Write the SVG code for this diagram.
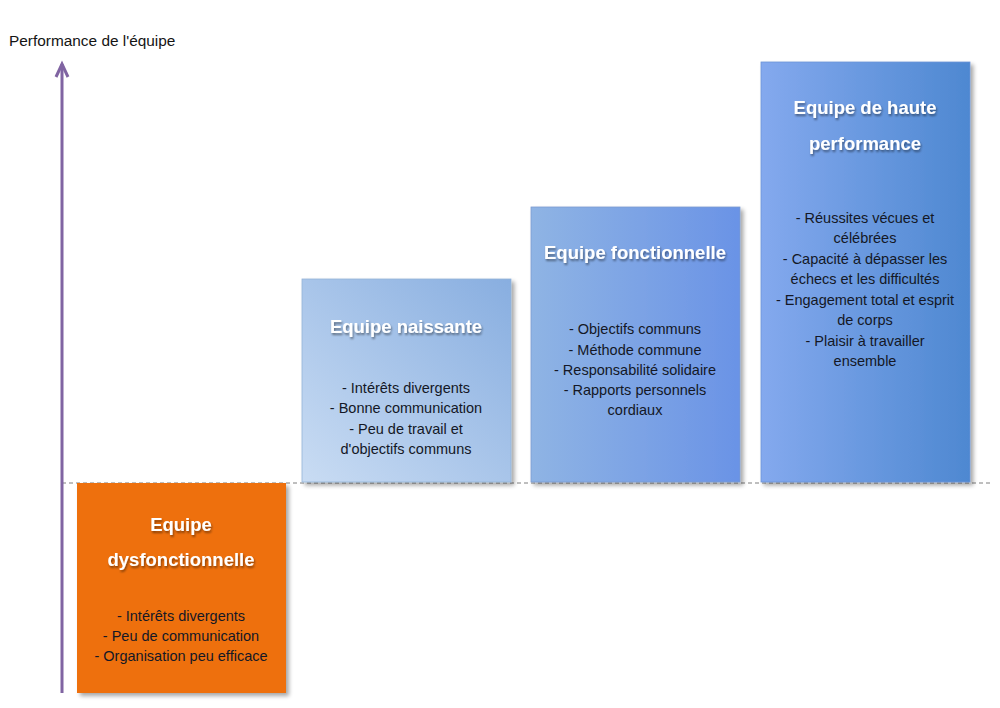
<svg xmlns="http://www.w3.org/2000/svg" width="1000" height="708" viewBox="0 0 1000 708">
<style>
.title{font-family:"Liberation Sans",Arial,sans-serif;font-size:18.5px;font-weight:bold;fill:#ffffff;text-anchor:middle}
.body{font-family:"Liberation Sans",Arial,sans-serif;font-size:14.5px;fill:#141826;text-anchor:middle}
.axislabel{font-family:"Liberation Sans",Arial,sans-serif;font-size:15.4px;fill:#141414}
</style>
<defs>
<filter id="sh" x="-10%" y="-10%" width="130%" height="130%">
<feGaussianBlur in="SourceAlpha" stdDeviation="2"/>
<feOffset dx="3" dy="3" result="b"/>
<feComponentTransfer><feFuncA type="linear" slope="0.35"/></feComponentTransfer>
<feMerge><feMergeNode/><feMergeNode in="SourceGraphic"/></feMerge>
</filter>
<filter id="ts" x="-10%" y="-30%" width="120%" height="160%">
<feGaussianBlur in="SourceAlpha" stdDeviation="1"/>
<feOffset dx="1" dy="1.5" result="b"/>
<feComponentTransfer><feFuncA type="linear" slope="0.45"/></feComponentTransfer>
<feMerge><feMergeNode/><feMergeNode in="SourceGraphic"/></feMerge>
</filter>
<linearGradient id="g2" x1="0" y1="1" x2="1" y2="0">
<stop offset="0" stop-color="#C9DCF3"/>
<stop offset="1" stop-color="#88AEE0"/>
</linearGradient>
<linearGradient id="g3" x1="0" y1="0" x2="1" y2="0">
<stop offset="0" stop-color="#8FB4E4"/>
<stop offset="1" stop-color="#6A93E6"/>
</linearGradient>
<linearGradient id="g4" x1="0" y1="0" x2="1" y2="0">
<stop offset="0" stop-color="#84A9EE"/>
<stop offset="1" stop-color="#4E88D1"/>
</linearGradient>
</defs>
<rect width="1000" height="708" fill="#ffffff"/>

<g id="connectors">
<line x1="62" y1="483" x2="992" y2="483" stroke="#7f7f7f" stroke-width="1" stroke-dasharray="4,3"/>
<line id="axis" x1="62" y1="64" x2="62" y2="693" stroke="#8064A2" stroke-width="3"/>
<polyline points="56,77 62,64 68,77" fill="none" stroke="#8064A2" stroke-width="3" stroke-linejoin="miter"/>
</g>

<text id="axis-label" class="axislabel" x="9" y="46">Performance de l'équipe</text>

<g id="dysfonctionnelle">
<rect x="77" y="483" width="209" height="210" fill="#EE700F" filter="url(#sh)"/>
<g filter="url(#ts)">
<text class="title" x="181" y="531">Equipe</text>
<text class="title" x="181" y="566">dysfonctionnelle</text>
</g>
<text class="body" x="181" y="621">- Intérêts divergents</text>
<text class="body" x="181" y="641">- Peu de communication</text>
<text class="body" x="181" y="661">- Organisation peu efficace</text>
</g>

<g id="naissante">
<rect x="302" y="279" width="209" height="203" fill="url(#g2)" stroke="#95B3D7" stroke-width="0.8" filter="url(#sh)"/>
<text class="title" x="406" y="333" filter="url(#ts)">Equipe naissante</text>
<text class="body" x="406" y="393">- Intérêts divergents</text>
<text class="body" x="406" y="413">- Bonne communication</text>
<text class="body" x="406" y="434">- Peu de travail et</text>
<text class="body" x="406" y="454">d'objectifs communs</text>
</g>

<g id="fonctionnelle">
<rect x="531" y="207" width="209" height="275" fill="url(#g3)" stroke="#7C9BD0" stroke-width="0.8" filter="url(#sh)"/>
<text class="title" x="635" y="259" filter="url(#ts)">Equipe fonctionnelle</text>
<text class="body" x="635" y="334">- Objectifs communs</text>
<text class="body" x="635" y="355">- Méthode commune</text>
<text class="body" x="635" y="375">- Responsabilité  solidaire</text>
<text class="body" x="635" y="395">- Rapports personnels</text>
<text class="body" x="635" y="415">cordiaux</text>
</g>

<g id="haute-performance">
<rect x="761" y="62" width="209" height="420" fill="url(#g4)" stroke="#6C93D6" stroke-width="0.8" filter="url(#sh)"/>
<g filter="url(#ts)">
<text class="title" x="865" y="114">Equipe de haute</text>
<text class="title" x="865" y="150">performance</text>
</g>
<text class="body" x="865" y="223">- Réussites vécues et</text>
<text class="body" x="865" y="243">célébrées</text>
<text class="body" x="865" y="264">- Capacité à dépasser les</text>
<text class="body" x="865" y="284">échecs et les difficultés</text>
<text class="body" x="865" y="305">- Engagement total et esprit</text>
<text class="body" x="865" y="325">de corps</text>
<text class="body" x="865" y="346">- Plaisir à travailler</text>
<text class="body" x="865" y="366">ensemble</text>
</g>
</svg>
